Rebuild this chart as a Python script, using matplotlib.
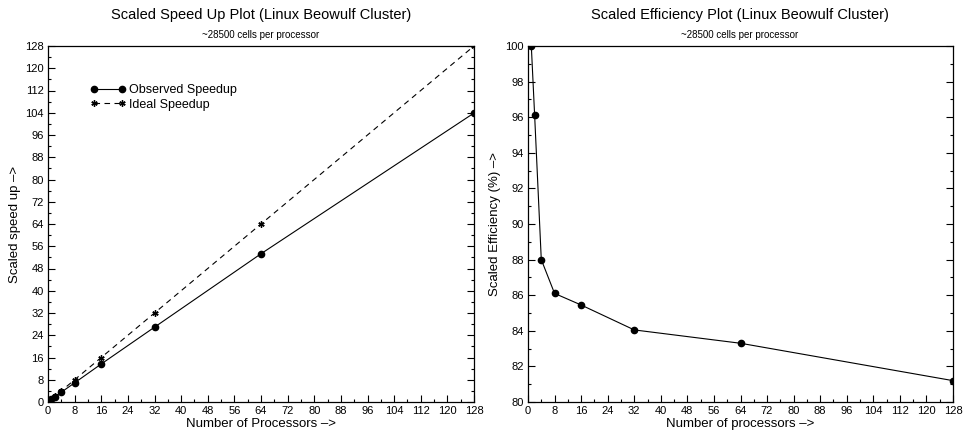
import matplotlib.pyplot as plt
from matplotlib.ticker import MultipleLocator

plt.rcParams['font.family'] = ['Liberation Sans', 'DejaVu Sans']

procs = [1, 2, 4, 8, 16, 32, 64, 128]
observed = [1.0, 1.92, 3.52, 6.89, 13.67, 26.9, 53.3, 103.9]
ideal = [1, 2, 4, 8, 16, 32, 64, 128]
efficiency = [100.0, 96.1, 88.0, 86.1, 85.45, 84.05, 83.3, 81.2]

fig = plt.figure(figsize=(9.66, 4.30), dpi=100)
ax1 = fig.add_axes([48/966, 28/430, 426/966, 356/430])
ax2 = fig.add_axes([528/966, 28/430, 425/966, 356/430])

ax1.plot(procs, observed, 'k-', marker='o', ms=4.5, lw=0.8, label='Observed Speedup')
ax1.plot(procs, ideal, 'k--', marker=(6, 2, 0), ms=4.5, lw=0.8, dashes=(5, 4),
         label='Ideal Speedup')
ax1.set_xlim(0, 128)
ax1.set_ylim(0, 128)
ax1.set_xlabel('Number of Processors –>', fontsize=9.5, labelpad=1)
ax1.set_ylabel('Scaled speed up –>', fontsize=9.5, labelpad=3)
ax1.legend(loc='upper left', bbox_to_anchor=(0.085, 0.91), frameon=False,
           numpoints=2, fontsize=9, handlelength=2.8, handletextpad=0.3,
           labelspacing=0.2, borderpad=0)

ax2.plot(procs, efficiency, 'k-', marker='o', ms=4.5, lw=0.8)
ax2.set_xlim(0, 128)
ax2.set_ylim(80, 100)
ax2.set_xlabel('Number of processors –>', fontsize=9.5, labelpad=1)
ax2.set_ylabel('Scaled Efficiency (%) –>', fontsize=9.5, labelpad=3)

for ax, maj, mnr in [(ax1, 8, 4), (ax2, 2, 1)]:
    ax.xaxis.set_major_locator(MultipleLocator(8))
    ax.xaxis.set_minor_locator(MultipleLocator(4))
    ax.yaxis.set_major_locator(MultipleLocator(maj))
    ax.yaxis.set_minor_locator(MultipleLocator(mnr))
    ax.tick_params(which='both', direction='in', top=False, right=True,
                   labelsize=8, width=0.8, pad=3)
    ax.tick_params(which='major', length=5)
    ax.tick_params(which='minor', length=2.5)
    for s in ax.spines.values():
        s.set_linewidth(0.9)

fig.text(261/966, 1 - 15/430, 'Scaled Speed Up Plot (Linux Beowulf Cluster)',
         ha='center', va='center', fontsize=10.5)
fig.text(261/966, 1 - 35/430, '~28500 cells per processor',
         ha='center', va='center', fontsize=7)
fig.text(740/966, 1 - 15/430, 'Scaled Efficiency Plot (Linux Beowulf Cluster)',
         ha='center', va='center', fontsize=10.5)
fig.text(740/966, 1 - 35/430, '~28500 cells per processor',
         ha='center', va='center', fontsize=7)

fig.savefig('out.png', dpi=100)
